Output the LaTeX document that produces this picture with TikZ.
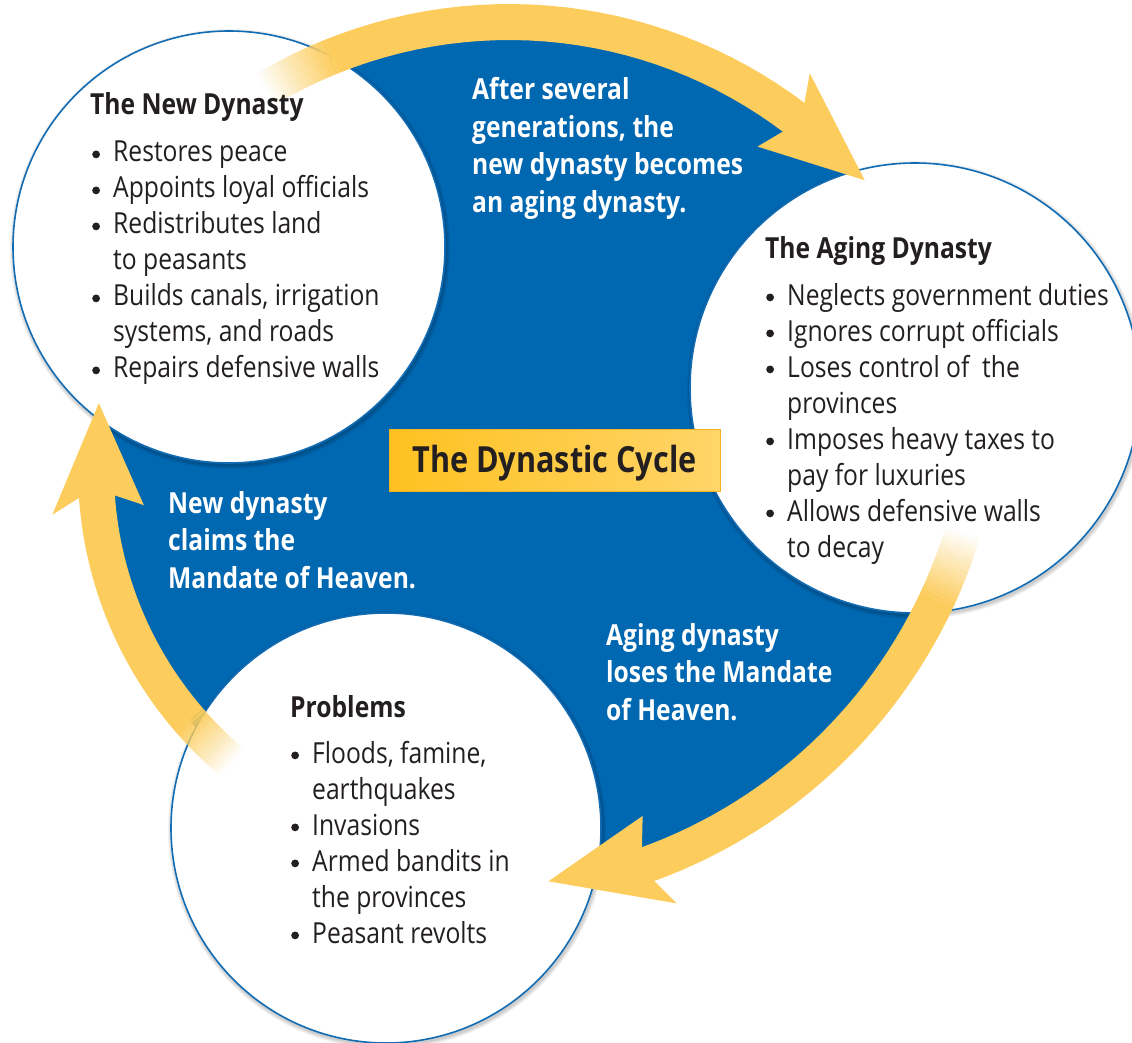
\documentclass[tikz,border=0pt]{standalone}
\usepackage{fontspec}
\setmainfont{Open Sans}[FakeStretch=0.85]
\definecolor{cycblue}{RGB}{0,103,177}
\definecolor{ringblue}{RGB}{18,108,180}
\definecolor{arrowyel}{RGB}{252,205,92}
\definecolor{boxyelA}{RGB}{254,193,32}
\definecolor{boxyelB}{RGB}{255,213,105}
\definecolor{boxedge}{RGB}{243,178,30}
\definecolor{inkblack}{RGB}{35,31,32}
% annular band between radii R-hw and R+hw, from angle a1 to a2 (pixel space, y down)
\newcommand\arcband[6]{plot[domain=#5:#6,samples=30]({#1+(#3+#4)*cos(\x)},{#2+(#3+#4)*sin(\x)}) -- plot[domain=#6:#5,samples=30]({#1+(#3-#4)*cos(\x)},{#2+(#3-#4)*sin(\x)}) -- cycle}
% arrow head: cx cy R notchangle barbangle tipangle barbhw shafthw tipoffset
\newcommand\arrowtip[9]{({#1+(#3+#8)*cos(#4)},{#2+(#3+#8)*sin(#4)}) -- ({#1+(#3+#7)*cos(#5)},{#2+(#3+#7)*sin(#5)}) -- ({#1+(#3+#9)*cos(#6)},{#2+(#3+#9)*sin(#6)}) -- ({#1+(#3-#7)*cos(#5)},{#2+(#3-#7)*sin(#5)}) -- ({#1+(#3-#8)*cos(#4)},{#2+(#3-#8)*sin(#4)}) -- cycle}
% faded tail: transparent at a_start, opaque at a_end
\newcommand\fadetail[6]{%
  \foreach \i in {0,...,15}{%
    \pgfmathsetmacro\fa{#5+(#6-#5)*\i/16}%
    \pgfmathsetmacro\fb{#5+(#6-#5)*(\i+1)/16}%
    \pgfmathsetmacro\fo{(\i+0.5)/16}%
    \fill[arrowyel, opacity=\fo] \arcband{#1}{#2}{#3}{#4}{\fa}{\fb};
  }}
\newcommand\bul{\makebox[21pt][l]{\tikz[baseline=0pt]\fill[inkblack] (3.9pt,7.6pt) circle[radius=3.9pt];}}
\newcommand\ind{\hspace*{21pt}}
\begin{document}
\begin{tikzpicture}[x=1pt,y=-1pt,
  ring/.style={circle, draw=ringblue, line width=1.6pt, fill=white, inner sep=0pt, outer sep=0pt},
  hdr/.style={anchor=base west, inner sep=0pt, text=inkblack, font=\fontsize{29}{36}\selectfont\bfseries},
  lst/.style={anchor=base west, inner sep=0pt, text=inkblack, font=\fontsize{29}{36}\selectfont},
  wlab/.style={anchor=base west, inner sep=0pt, text=white, font=\fontsize{29}{37.5}\selectfont\bfseries},
  cycbox/.style={left color=boxyelA, right color=boxyelB, draw=boxedge, line width=0.8pt,
     minimum width=331pt, minimum height=62pt, inner sep=0pt, text height=25pt, text depth=1pt,
     text=inkblack, font=\fontsize{36}{40}\selectfont\bfseries}]
\useasboundingbox (0,0) rectangle (1132,1043);
\clip (0,0) rectangle (1132,1043);
\fill[white] (0,0) rectangle (1132,1043);

% blue field bounded by the arrow centre lines
\fill[cycblue] plot[domain=-116:-41.5,samples=80] ({509+473*cos(\x)},{495+473*sin(\x)})
  -- plot[domain=20:81,samples=80] ({473+512*cos(\x)},{383+512*sin(\x)})
  -- plot[domain=133:190,samples=80] ({478+382*cos(\x)},{470+382*sin(\x)}) -- cycle;

% soft shadows of the circles
\foreach \k in {1,...,4}{
  \fill[black, opacity=0.05] (230,249) circle[radius={216pt+\k pt}];
  \fill[black, opacity=0.05] (916,390) circle[radius={225pt+\k pt}];
  \fill[black, opacity=0.05] (387,830) circle[radius={215pt+\k pt}];
}

% the three circles
\node[ring, minimum size=432pt] (newdyn) at (229,247) {};
\node[ring, minimum size=450pt] (aging) at (915,388) {};
\node[ring, minimum size=430pt] (probs) at (386,828) {};

% top arrow: new dynasty -> aging dynasty
\fadetail{509}{495}{473}{18}{-121}{-112}
\fill[arrowyel] \arcband{509}{495}{473}{18}{-112}{-52.7};
\fill[arrowyel] \arrowtip{509}{495}{473}{-53}{-54.5}{-41.5}{45}{18}{2};

% right arrow: aging dynasty -> problems
\fadetail{473}{383}{512}{18}{17}{25}
\fill[arrowyel] \arcband{473}{383}{512}{18}{25}{70.3};
\fill[arrowyel] \arrowtip{473}{383}{512}{70}{68.6}{81.4}{47}{18}{-8};

% left arrow: problems -> new dynasty
\fadetail{478}{470}{382}{18}{130}{139}
\fill[arrowyel] \arcband{478}{470}{382}{18}{139}{176.3};
\fill[arrowyel] \arrowtip{478}{470}{382}{176}{174}{190}{46}{18}{3};

% circle texts
\node[hdr] (hNew) at (90,115) {The New Dynasty};
\node[lst] (lNew) at (92,162) {\begin{tabular}[t]{@{}l@{}}
\bul Restores peace\\
\bul Appoints loyal officials\\
\bul Redistributes land\\
\ind to peasants\\
\bul Builds canals, irrigation\\
\ind systems, and roads\\
\bul Repairs defensive walls
\end{tabular}};

\node[hdr] (hAge) at (765,258) {The Aging Dynasty};
\node[lst] (lAge) at (766,305) {\begin{tabular}[t]{@{}l@{}}
\bul Neglects government duties\\
\bul Ignores corrupt officials\\
\bul Loses control of\ \ the\\
\ind provinces\\
\bul Imposes heavy taxes to\\
\ind pay for luxuries\\
\bul Allows defensive walls\\
\ind to decay
\end{tabular}};

\node[hdr] (hProb) at (290,717) {Problems};
\node[lst] (lProb) at (291,763) {\begin{tabular}[t]{@{}l@{}}
\bul Floods, famine,\\
\ind earthquakes\\
\bul Invasions\\
\bul Armed bandits in\\
\ind the provinces\\
\bul Peasant revolts
\end{tabular}};

% white labels on the blue field
\node[wlab] (tTop) at (472,100) {\begin{tabular}[t]{@{}l@{}}After several\\generations, the\\new dynasty becomes\\an aging dynasty.\end{tabular}};
\node[wlab] (tLeft) at (168,513) {\begin{tabular}[t]{@{}l@{}}New dynasty\\claims the\\Mandate of Heaven.\end{tabular}};
\node[wlab] (tRight) at (606,645) {\begin{tabular}[t]{@{}l@{}}Aging dynasty\\loses the Mandate\\of Heaven.\end{tabular}};

% centre title
\node[cycbox] (cycle) at (554.5,460) {The Dynastic Cycle};
\end{tikzpicture}
\end{document}
